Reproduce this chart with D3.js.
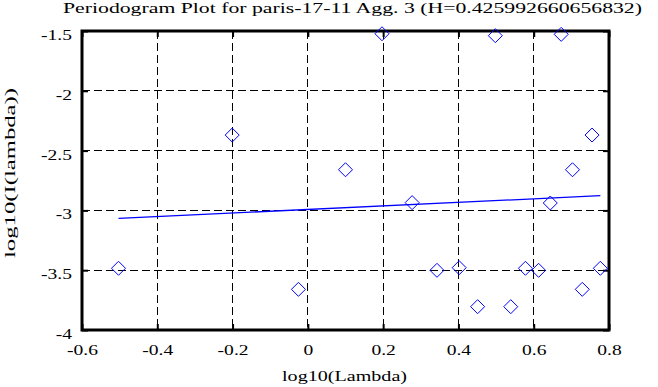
<!DOCTYPE html>
<html><head><meta charset="utf-8">
<script src="https://cdn.jsdelivr.net/npm/d3@7"></script>
<style>body{margin:0;background:#fff}svg{display:block}text{font-family:"Liberation Serif","Times New Roman",serif;fill:#000}</style>
</head><body><svg id="c" width="658" height="387"></svg>
<script>
const title = "Periodogram Plot for paris-17-11 Agg. 3 (H=0.425992660656832)";
const xLabel = "log10(Lambda)";
const yLabel = "log10(I(lambda))";
const logLambda = [-0.503,-0.201,-0.025,0.100,0.197,0.277,0.343,0.402,0.451,0.498,0.539,0.578,0.613,0.644,0.673,0.703,0.729,0.755,0.777];
const logI = [-3.484,-2.370,-3.660,-2.660,-1.523,-2.935,-3.501,-3.479,-3.805,-1.539,-3.805,-3.484,-3.501,-2.938,-1.528,-2.660,-3.660,-2.370,-3.484];
const fitSlope = 0.148, fitIntercept = -2.992;
const xTicks = [-0.6,-0.4,-0.2,0,0.2,0.4,0.6,0.8];
const yTicks = [-1.5,-2,-2.5,-3,-3.5,-4];

const FF = '"Liberation Serif","Times New Roman",serif';
const FS = 15.5, WIDEN = 1.26;
const svg = d3.select("#c");
const L=82,R=609,T=31,B=330;
const x = d3.scaleLinear().domain([-0.6,0.8]).range([L,R]);
const y = d3.scaleLinear().domain([-4,-1.5]).range([B,T]);

function widen(sel){
  sel.each(function(){
    const w = this.getComputedTextLength();
    d3.select(this).attr("textLength", w*WIDEN).attr("lengthAdjust","spacingAndGlyphs");
  });
}

// grid
const g = svg.append("g");
g.selectAll(".vg").data(xTicks.slice(1,-1)).enter().append("line")
 .attr("x1",d=>x(d)).attr("x2",d=>x(d)).attr("y1",T).attr("y2",B)
 .attr("stroke","#000").attr("stroke-width",1).attr("stroke-dasharray","8,4").attr("shape-rendering","crispEdges");
g.selectAll(".hg").data(yTicks.slice(1,-1)).enter().append("line")
 .attr("y1",d=>y(d)).attr("y2",d=>y(d)).attr("x1",L).attr("x2",R)
 .attr("stroke","#000").attr("stroke-width",1).attr("stroke-dasharray","8,4").attr("shape-rendering","crispEdges");

// axes
const fmt = d=> d===0 ? "0" : String(d);
const xa = svg.append("g").attr("transform",`translate(0,${B})`)
 .call(d3.axisBottom(x).tickValues(xTicks).tickFormat(fmt).tickSizeInner(-6).tickSizeOuter(0).tickPadding(14));
const xt = svg.append("g").attr("transform",`translate(0,${T})`)
 .call(d3.axisTop(x).tickValues(xTicks).tickFormat("").tickSizeInner(-6).tickSizeOuter(0));
const ya = svg.append("g").attr("transform",`translate(${L},0)`)
 .call(d3.axisLeft(y).tickValues(yTicks).tickFormat(fmt).tickSizeInner(-6).tickSizeOuter(0).tickPadding(10));
const yr = svg.append("g").attr("transform",`translate(${R},0)`)
 .call(d3.axisRight(y).tickValues(yTicks).tickFormat("").tickSizeInner(-6).tickSizeOuter(0));
[xa,xt,ya,yr].forEach(a=>{
  a.attr("font-family",FF).attr("font-size",FS);
  a.select(".domain").remove();
  a.selectAll("line").attr("stroke","#000").attr("stroke-width",2);
  a.selectAll("text").style("font-family",FF).attr("font-size",FS).attr("fill","#000");
  widen(a.selectAll("text"));
});
ya.selectAll("text").attr("dy","0.55em");
svg.append("rect").attr("x",L).attr("y",T).attr("width",R-L).attr("height",B-T)
 .attr("fill","none").attr("stroke","#000").attr("stroke-width",3);

// fit line
const xe = d3.extent(logLambda);
svg.append("line").attr("x1",x(xe[0])).attr("x2",x(xe[1]))
 .attr("y1",y(fitIntercept+fitSlope*xe[0])).attr("y2",y(fitIntercept+fitSlope*xe[1]))
 .attr("stroke","#0000ff").attr("stroke-width",1.3);

// points
const pts = logLambda.map((v,i)=>[v,logI[i]]);
const s=7;
svg.selectAll(".pt").data(pts).enter().append("path")
 .attr("d",d=>{const cx=x(d[0]),cy=y(d[1]);return `M${cx},${cy-s}L${cx+s},${cy}L${cx},${cy+s}L${cx-s},${cy}Z`;})
 .attr("fill","none").attr("stroke","#0000ff").attr("stroke-width",1);

// labels
svg.append("text").attr("x",63).attr("y",13).attr("font-size",FS)
 .attr("textLength",579).attr("lengthAdjust","spacingAndGlyphs").text(title);
svg.append("text").attr("x",282).attr("y",381).attr("font-size",FS)
 .attr("textLength",125).attr("lengthAdjust","spacingAndGlyphs").text(xLabel);
svg.append("text").attr("transform","translate(15,258) rotate(-90)").attr("font-size",FS)
 .attr("textLength",170).attr("lengthAdjust","spacingAndGlyphs").text(yLabel);
</script></body></html>
